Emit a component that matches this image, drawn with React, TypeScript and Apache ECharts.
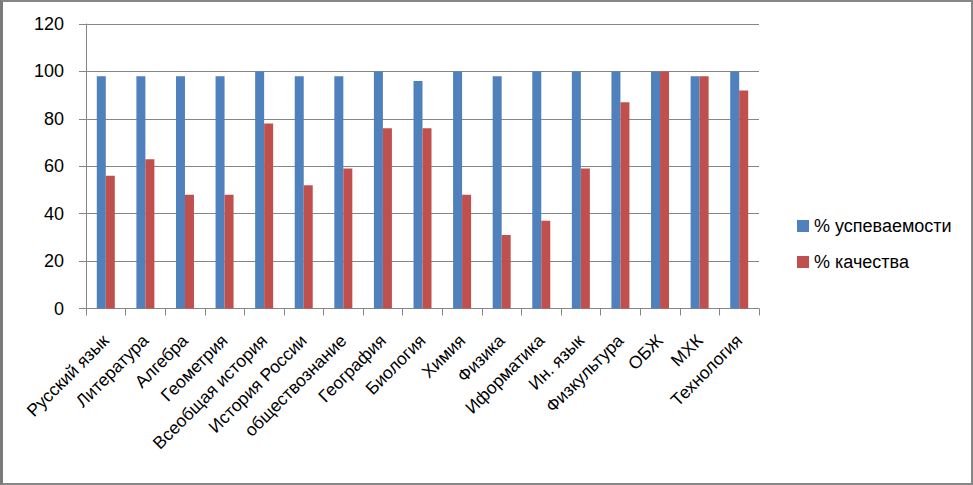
import React, { useEffect, useRef } from "react";
import * as echarts from "echarts";

const categories = [
  "Русский язык",
  "Литература",
  "Алгебра",
  "Геометрия",
  "Всеобщая история",
  "История России",
  "обществознание",
  "География",
  "Биология",
  "Химия",
  "Физика",
  "Иформатика",
  "Ин. язык",
  "Физкультура",
  "ОБЖ",
  "МХК",
  "Технология",
];
const uspevaemost = [98, 98, 98, 98, 100, 98, 98, 100, 96, 100, 98, 100, 100, 100, 100, 98, 100];
const kachestvo = [56, 63, 48, 48, 78, 52, 59, 76, 76, 48, 31, 37, 59, 87, 100, 98, 92];
const seriesNames = ["% успеваемости", "% качества"];

const FONT = "'Liberation Sans', Arial, sans-serif";

export default function App() {
  const ref = useRef<HTMLDivElement>(null);
  useEffect(() => {
    if (!ref.current) return;
    const chart = echarts.init(ref.current, undefined, { renderer: "svg" });
    chart.setOption({
      animation: false,
      backgroundColor: "#ffffff",
      textStyle: { fontFamily: FONT },
      grid: { left: 86, right: 214, top: 24, bottom: 176.5, containLabel: false },
      legend: {
        orient: "vertical",
        left: 792,
        top: 212,
        icon: "rect",
        itemWidth: 12,
        itemHeight: 12,
        itemGap: 18,
        textStyle: { fontFamily: FONT, fontSize: 18, color: "#000", padding: [0, 0, 0, 0] },
        data: seriesNames,
      },
      xAxis: {
        type: "category",
        data: categories,
        axisLine: { lineStyle: { color: "#868686", width: 1 } },
        axisTick: { show: true, length: 7, lineStyle: { color: "#868686" } },
        axisLabel: {
          interval: 0,
          rotate: 45,
          margin: 29,
          color: "#000",
          fontFamily: FONT,
          fontSize: 17.5,
        },
      },
      yAxis: {
        type: "value",
        min: 0,
        max: 120,
        interval: 20,
        axisLine: { show: true, lineStyle: { color: "#868686", width: 1 } },
        axisTick: { show: true, length: 7, lineStyle: { color: "#868686" } },
        splitLine: { lineStyle: { color: "#868686", width: 1 } },
        axisLabel: { color: "#000", fontFamily: FONT, fontSize: 18, margin: 22 },
      },
      series: [
        {
          name: seriesNames[0],
          type: "bar",
          data: uspevaemost,
          barWidth: 9,
          barGap: "0%",
          itemStyle: { color: "#4F81BD" },
        },
        {
          name: seriesNames[1],
          type: "bar",
          data: kachestvo,
          barWidth: 9,
          barGap: "0%",
          itemStyle: { color: "#C0504D" },
        },
      ],
    });
    return () => chart.dispose();
  }, []);
  return (
    <>
      <div ref={ref} style={{ position: "fixed", left: 0, top: 0, width: 973, height: 485 }} />
      <div
        style={{
          position: "fixed",
          left: 0,
          top: 0,
          width: 973,
          height: 485,
          boxSizing: "border-box",
          borderTop: "2px solid #868686",
          borderRight: "2px solid #868686",
          borderBottom: "2px solid #868686",
          borderLeft: "3px solid #7a7a7a",
          pointerEvents: "none",
        }}
      />
    </>
  );
}
